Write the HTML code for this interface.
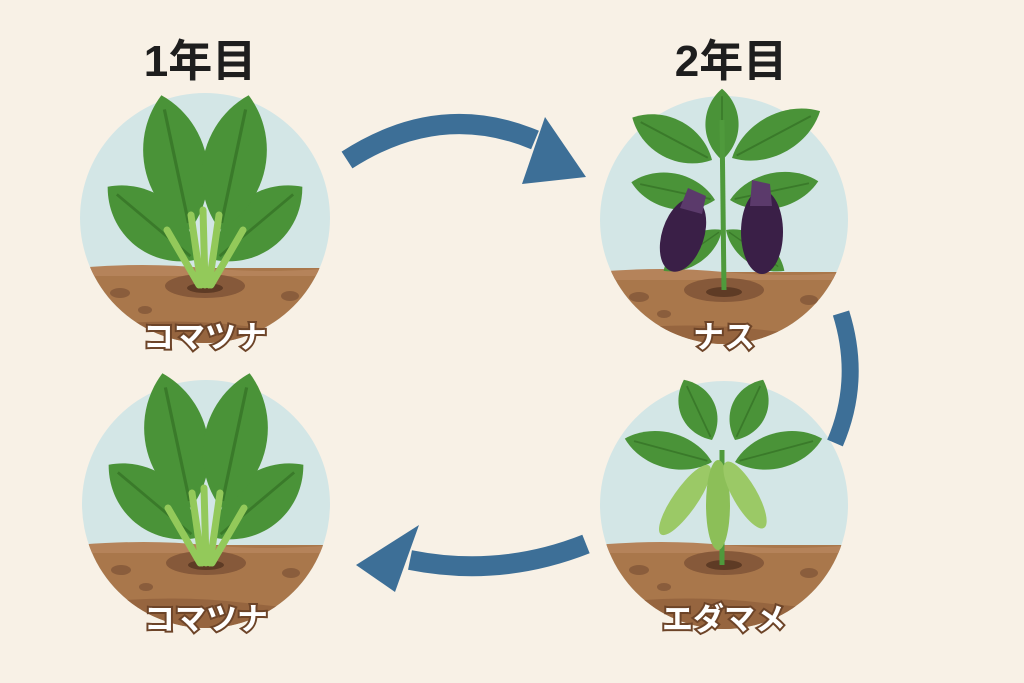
<!DOCTYPE html>
<html><head><meta charset="utf-8"><style>
html,body{margin:0;padding:0;background:#f8f1e6;}
svg{display:block}
</style></head><body>
<svg width="1024" height="683" viewBox="0 0 1024 683" xmlns="http://www.w3.org/2000/svg">
<defs>
<g id="leaf"><path d="M0 0 C-26 -25 -26 -70 0 -95 C26 -70 26 -25 0 0Z" fill="#4a9338"/><path d="M0 -5 L0 -85" stroke="#3a7a2a" stroke-width="2"/></g>
<clipPath id="c1"><circle cx="205" cy="218" r="125"/></clipPath>
<clipPath id="c2"><circle cx="724" cy="220" r="124"/></clipPath>
<clipPath id="c3"><circle cx="206" cy="504" r="124"/></clipPath>
<clipPath id="c4"><circle cx="724" cy="505" r="124"/></clipPath>
<g id="soil">
<rect x="-130" y="0" width="260" height="140" fill="#a9774b"/>
<path d="M-130 0 Q-60 -6 0 0 T130 0 V8 H-130Z" fill="#b5835a"/>
<ellipse cx="0" cy="18" rx="40" ry="12" fill="#86593a"/>
<ellipse cx="0" cy="20" rx="18" ry="5" fill="#5e3b25"/>
<ellipse cx="-85" cy="25" rx="10" ry="5" fill="#8a5d3c"/>
<ellipse cx="-60" cy="42" rx="7" ry="4" fill="#8a5d3c"/>
<ellipse cx="85" cy="28" rx="9" ry="5" fill="#8a5d3c"/>
<ellipse cx="95" cy="50" rx="7" ry="4" fill="#8a5d3c"/>
<path d="M-130 60 Q-40 48 40 58 T130 55 V140 H-130Z" fill="#96653f"/>
</g>
<g id="komatsuna">
<use href="#leaf" transform="translate(-10,-25) rotate(-50) scale(1.4,1.2)"/>
<use href="#leaf" transform="translate(10,-25) rotate(50) scale(1.4,1.2)"/>
<use href="#leaf" transform="translate(-15,-55) rotate(-12) scale(1.6,1.45)"/>
<use href="#leaf" transform="translate(15,-55) rotate(12) scale(1.6,1.45)"/>
<path d="M-4 0 L-14 -70 M0 0 L-2 -75 M4 0 L14 -70 M-6 0 L-38 -55 M6 0 L38 -55" stroke="#93c95a" stroke-width="7" fill="none" stroke-linecap="round"/>
</g>
<style>.lab{font-family:"Liberation Sans","Noto Sans CJK JP",sans-serif;font-weight:bold;font-size:31px;fill:#fff;stroke:#6d4428;stroke-width:4;paint-order:stroke;text-anchor:middle}
.tt{font-family:"Liberation Sans","Noto Sans CJK JP",sans-serif;font-weight:bold;font-size:44px;fill:#1e1e1e;text-anchor:middle}</style>
</defs>

<text class="tt" x="200" y="76">1年目</text>
<text class="tt" x="731" y="76">2年目</text>

<circle cx="205" cy="218" r="125" fill="#d3e6e6"/>
<g clip-path="url(#c1)"><use href="#soil" transform="translate(205,268)"/></g>
<use href="#komatsuna" transform="translate(205,285)"/>
<text class="lab" x="205" y="348">コマツナ</text>

<circle cx="206" cy="504" r="124" fill="#d3e6e6"/>
<g clip-path="url(#c3)"><use href="#soil" transform="translate(206,545)"/></g>
<use href="#komatsuna" transform="translate(206,563)"/>
<text class="lab" x="206" y="630">コマツナ</text>

<circle cx="724" cy="220" r="124" fill="#d3e6e6"/>
<g clip-path="url(#c2)"><use href="#soil" transform="translate(724,272)"/></g>
<use href="#leaf" transform="translate(722,160) scale(0.85,0.75)"/>
<use href="#leaf" transform="translate(712,160) rotate(-62) scale(1.0,0.95)"/>
<use href="#leaf" transform="translate(732,158) rotate(62) scale(1.0,1.05)"/>
<use href="#leaf" transform="translate(715,200) rotate(-78) scale(0.9,0.9)"/>
<use href="#leaf" transform="translate(730,200) rotate(78) scale(0.9,0.95)"/>
<use href="#leaf" transform="translate(722,230) rotate(-125) scale(0.7,0.75)"/>
<use href="#leaf" transform="translate(726,230) rotate(125) scale(0.7,0.75)"/>
<path d="M724 290 L722 120" stroke="#4f9a3c" stroke-width="5"/>
<ellipse cx="683" cy="235" rx="21" ry="38" transform="rotate(18 683 235)" fill="#3a1f47"/>
<ellipse cx="762" cy="232" rx="21" ry="42" fill="#3a1f47"/>
<path d="M688 188 l18 8 l-4 18 l-22 -6z" fill="#5b3a6b"/>
<path d="M752 180 l18 4 l2 22 l-22 0z" fill="#5b3a6b"/>
<text class="lab" x="724" y="348">ナス</text>

<circle cx="724" cy="505" r="124" fill="#d3e6e6"/>
<g clip-path="url(#c4)"><use href="#soil" transform="translate(724,545)"/></g>
<use href="#leaf" transform="translate(712,440) rotate(-25) scale(0.9,0.7)"/>
<use href="#leaf" transform="translate(735,440) rotate(25) scale(0.9,0.7)"/>
<use href="#leaf" transform="translate(712,462) rotate(-75) scale(0.9,0.95)"/>
<use href="#leaf" transform="translate(735,462) rotate(75) scale(0.9,0.95)"/>
<path d="M722 565 L722 450" stroke="#4f9a3c" stroke-width="5"/>
<ellipse cx="685" cy="500" rx="12" ry="42" transform="rotate(35 685 500)" fill="#9bc966"/>
<ellipse cx="718" cy="505" rx="12" ry="45" fill="#8cbf58"/>
<ellipse cx="745" cy="495" rx="12" ry="38" transform="rotate(-30 745 495)" fill="#9bc966"/>
<text class="lab" x="724" y="630">エダマメ</text>

<path d="M347 160 Q440 100 535 140" stroke="#3d6f97" stroke-width="20" fill="none"/>
<path d="M545 117 L586 177 L522 184Z" fill="#3d6f97"/>
<path d="M841 313 Q862 380 835 443" stroke="#3d6f97" stroke-width="17" fill="none"/>
<path d="M586 544 Q500 578 410 560" stroke="#3d6f97" stroke-width="20" fill="none"/>
<path d="M419 525 L356 565 L395 592Z" fill="#3d6f97"/>
</svg>
</body></html>
